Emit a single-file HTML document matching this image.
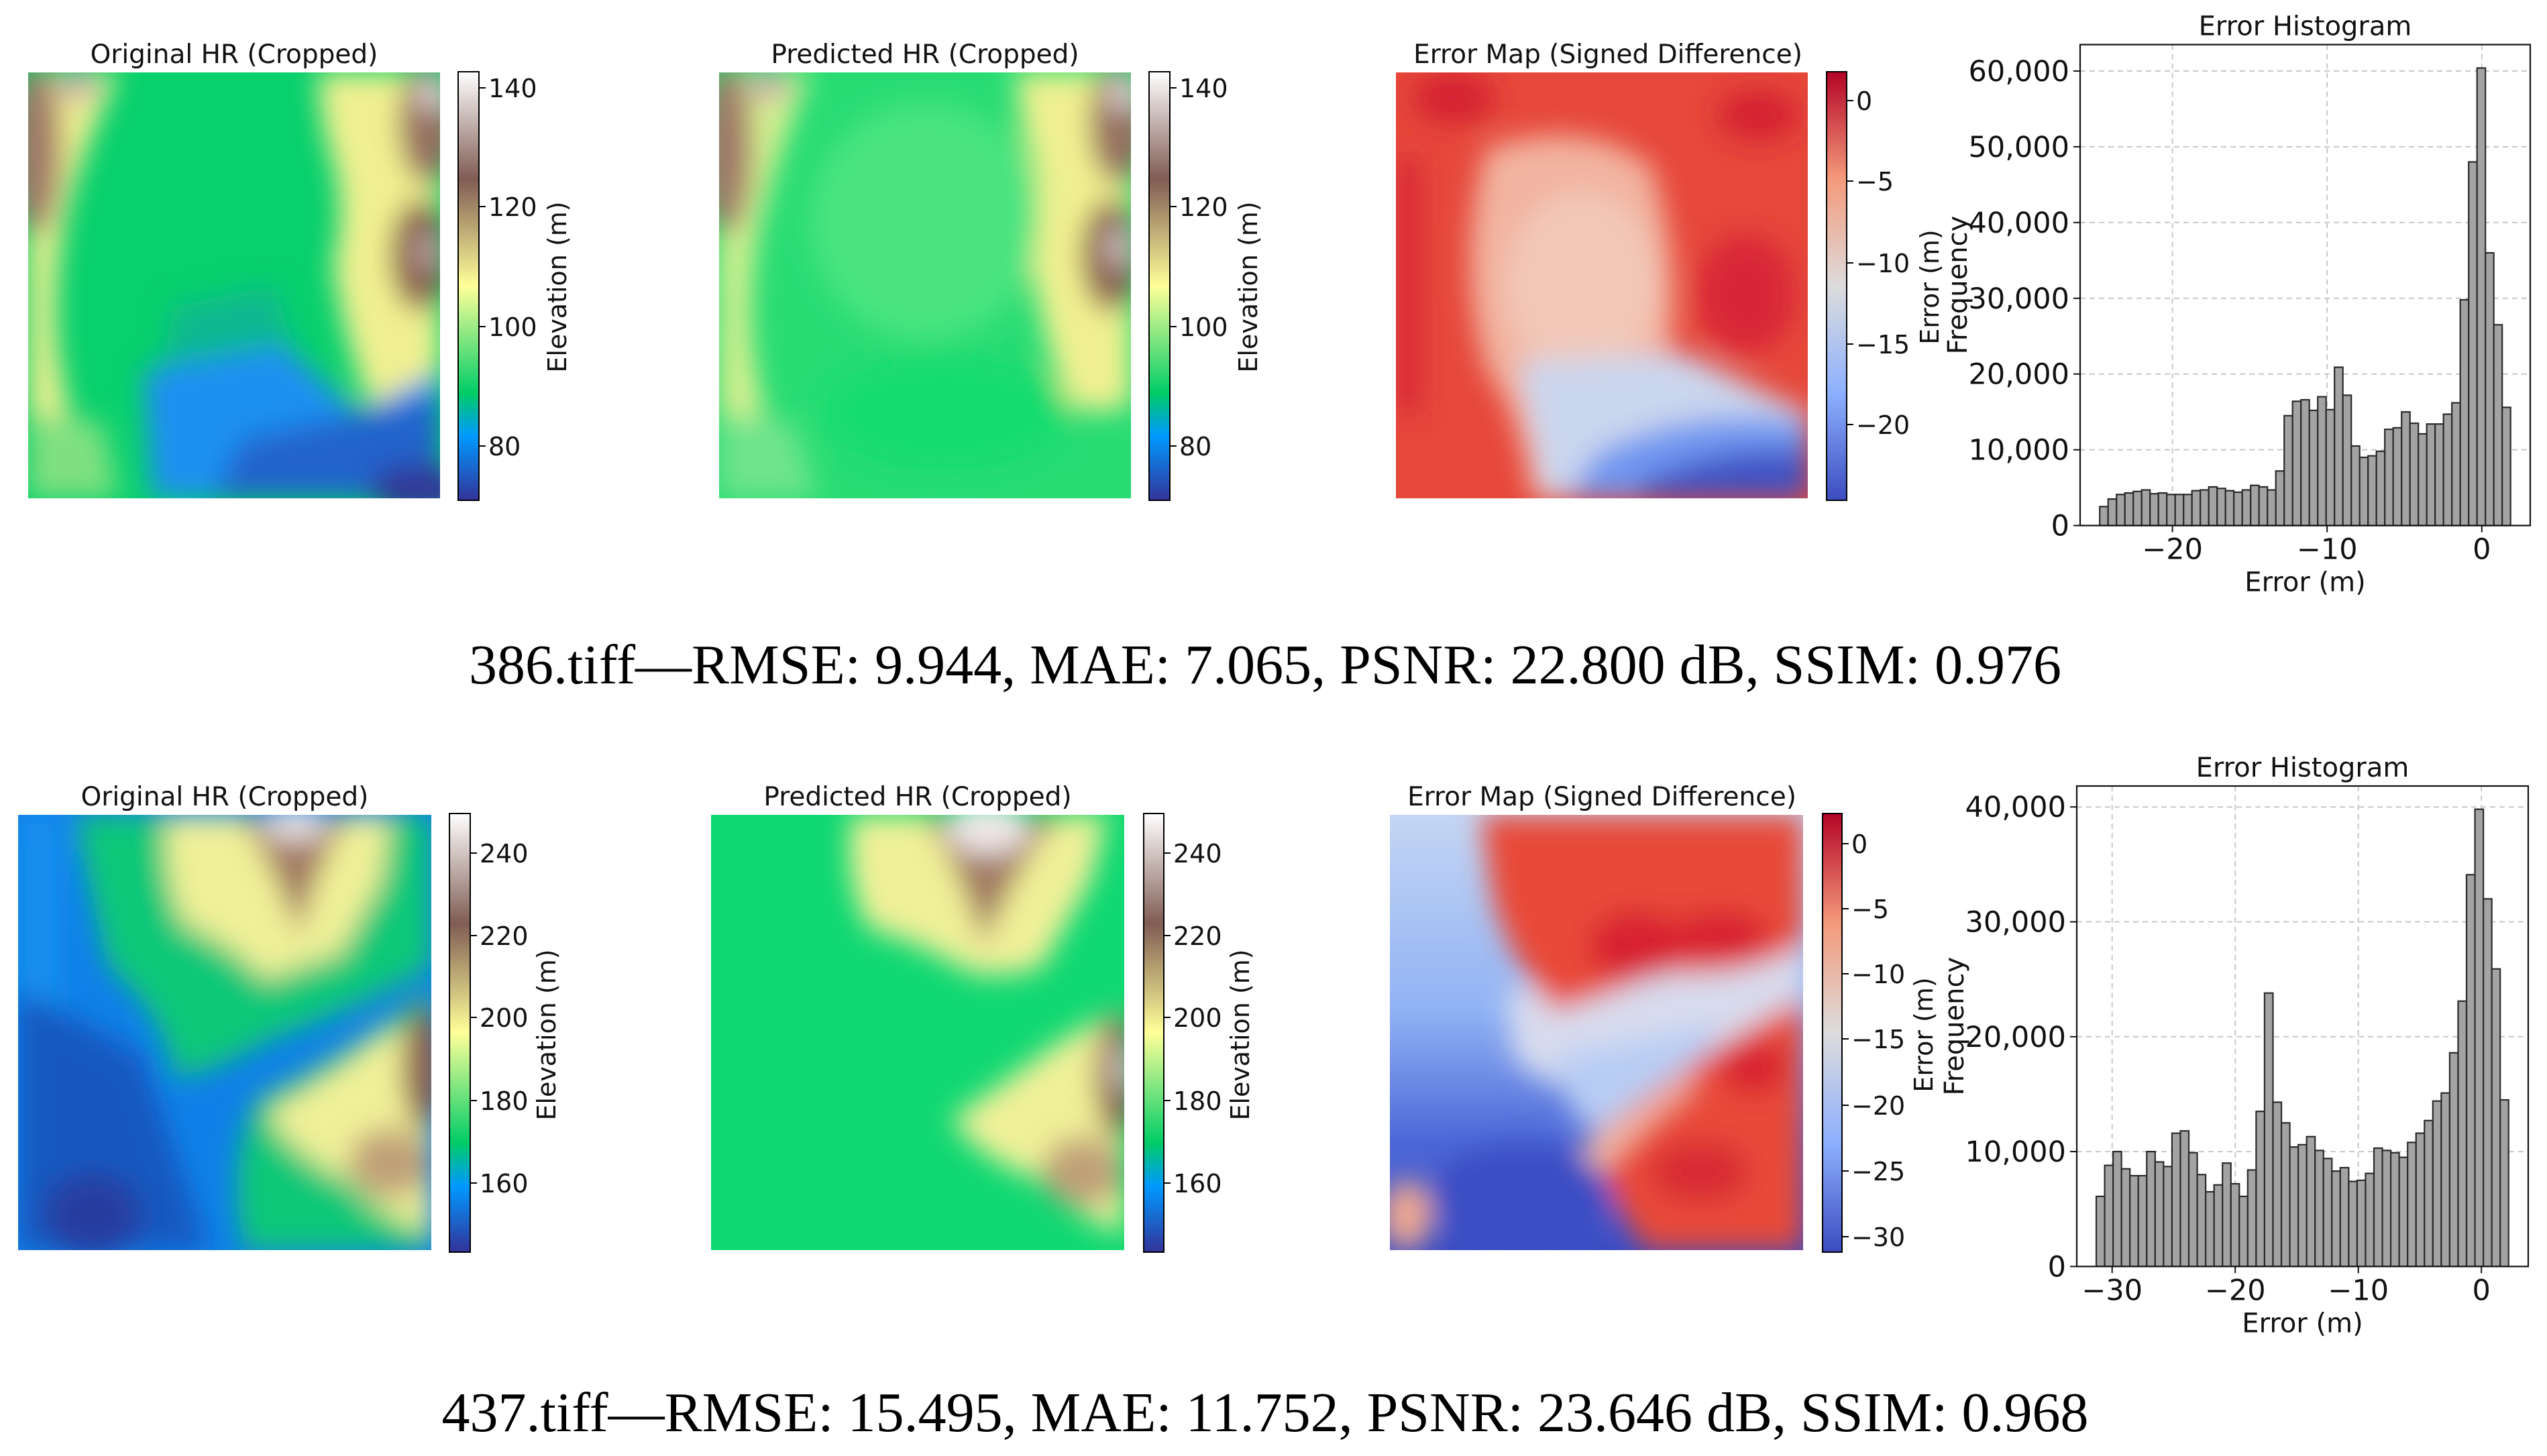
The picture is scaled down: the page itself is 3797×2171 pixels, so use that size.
<!DOCTYPE html>
<html><head><meta charset="utf-8"><style>
html,body{margin:0;padding:0;background:#fff;}
svg{display:block;}
.t{font-family:"DejaVu Sans","Liberation Sans",sans-serif;fill:#111;}
.cap{font-family:"Liberation Serif",serif;fill:#000;}
</style></head><body>
<svg id="fig" width="3797" height="2171" viewBox="0 0 3797 2171" xmlns="http://www.w3.org/2000/svg">
<defs>
<filter id="bl" x="-10%" y="-10%" width="120%" height="120%"><feGaussianBlur stdDeviation="3.2"/></filter>
<linearGradient id="terrain" x1="0" y1="1" x2="0" y2="0">
<stop offset="0" stop-color="#333399"/><stop offset="0.15" stop-color="#0099ff"/><stop offset="0.25" stop-color="#00cc66"/><stop offset="0.5" stop-color="#ffff99"/><stop offset="0.75" stop-color="#805c54"/><stop offset="1" stop-color="#ffffff"/>
</linearGradient>
<linearGradient id="coolwarm" x1="0" y1="1" x2="0" y2="0">
<stop offset="0" stop-color="#3b4cc0"/><stop offset="0.25" stop-color="#8db0fe"/><stop offset="0.5" stop-color="#dddcdc"/><stop offset="0.75" stop-color="#f49a7b"/><stop offset="1" stop-color="#b40426"/>
</linearGradient>
<linearGradient id="leftblue" x1="0" y1="0" x2="0" y2="1">
<stop offset="0" stop-color="#c4d6f4"/><stop offset="0.45" stop-color="#90b2f4"/><stop offset="0.75" stop-color="#4c68d8"/><stop offset="1" stop-color="#3a4cc2"/>
</linearGradient>
</defs>

<!-- ROW 1 -->
<text class="t" x="349" y="94" font-size="39" text-anchor="middle">Original HR (Cropped)</text>
<svg x="42" y="108" width="614" height="635" viewBox="0 0 100 100" preserveAspectRatio="none">
<rect width="100" height="100" fill="#08d06c"/>
<g filter="url(#bl)">
<path d="M0 0 L22 0 Q10 25 8 40 Q5 60 9 75 Q11 90 14 100 L0 100 Z" fill="#f0f090"/>
<ellipse cx="2" cy="18" rx="6" ry="20" fill="#a07868"/>
<ellipse cx="12" cy="3" rx="5" ry="4" fill="#c8b0a8"/>
<path d="M0 80 L18 82 L22 100 L0 100Z" fill="#80e080"/>
<path d="M70 0 L100 0 L100 78 Q88 82 82 76 Q76 60 74 45 Q78 30 72 15 Z" fill="#f0f090"/>
<ellipse cx="97" cy="12" rx="7" ry="14" fill="#967060"/>
<ellipse cx="98" cy="5" rx="3" ry="4" fill="#e8e0e0"/>
<ellipse cx="95" cy="43" rx="7" ry="13" fill="#8a6050"/>
<ellipse cx="97" cy="42" rx="3" ry="4" fill="#c0a8a8"/>
<path d="M35 55 L60 50 L66 70 L32 74 Z" fill="#10b890"/>
<path d="M28 70 L62 64 L80 80 L100 70 L100 100 L30 100 Z" fill="#1a90f0"/>
<path d="M52 86 L100 76 L100 100 L45 100Z" fill="#2064cc"/>
<ellipse cx="95" cy="98" rx="12" ry="6" fill="#303898"/>
</g></svg>
<rect x="683" y="107" width="31" height="639" fill="url(#terrain)" stroke="#000" stroke-width="2"/>
<g class="t" font-size="38">
<line x1="714" y1="131" x2="724" y2="131" stroke="#000" stroke-width="2"/><text x="728" y="145">140</text>
<line x1="714" y1="308" x2="724" y2="308" stroke="#000" stroke-width="2"/><text x="728" y="322">120</text>
<line x1="714" y1="487" x2="724" y2="487" stroke="#000" stroke-width="2"/><text x="728" y="501">100</text>
<line x1="714" y1="665" x2="724" y2="665" stroke="#000" stroke-width="2"/><text x="728" y="679">80</text>
</g>
<text class="t" font-size="38" text-anchor="middle" transform="translate(844,428) rotate(-90)">Elevation (m)</text>

<text class="t" x="1379" y="94" font-size="39" text-anchor="middle">Predicted HR (Cropped)</text>
<svg x="1072" y="108" width="614" height="635" viewBox="0 0 100 100" preserveAspectRatio="none">
<rect width="100" height="100" fill="#28dc74"/>
<g filter="url(#bl)">
<ellipse cx="50" cy="35" rx="28" ry="28" fill="#48e480"/>
<path d="M0 0 L22 0 Q12 25 9 40 Q6 60 10 75 Q12 90 16 100 L0 100 Z" fill="#d8f090"/>
<ellipse cx="2" cy="18" rx="6" ry="20" fill="#a07868"/>
<ellipse cx="12" cy="3" rx="5" ry="4" fill="#c8b0a8"/>
<path d="M0 80 L18 82 L24 100 L0 100Z" fill="#70e48c"/>
<path d="M72 0 L100 0 L100 78 Q88 82 84 76 Q78 60 76 45 Q80 30 74 15 Z" fill="#f0f090"/>
<ellipse cx="97" cy="12" rx="7" ry="14" fill="#967060"/>
<ellipse cx="98" cy="5" rx="3" ry="4" fill="#e8e0e0"/>
<ellipse cx="95" cy="43" rx="7" ry="13" fill="#8a6050"/>
<ellipse cx="97" cy="41" rx="3" ry="5" fill="#d0c0c0"/>
<ellipse cx="55" cy="80" rx="30" ry="14" fill="#18dc70"/>
</g></svg>
<rect x="1713" y="107" width="31" height="639" fill="url(#terrain)" stroke="#000" stroke-width="2"/>
<g class="t" font-size="38">
<line x1="1744" y1="131" x2="1754" y2="131" stroke="#000" stroke-width="2"/><text x="1758" y="145">140</text>
<line x1="1744" y1="308" x2="1754" y2="308" stroke="#000" stroke-width="2"/><text x="1758" y="322">120</text>
<line x1="1744" y1="487" x2="1754" y2="487" stroke="#000" stroke-width="2"/><text x="1758" y="501">100</text>
<line x1="1744" y1="665" x2="1754" y2="665" stroke="#000" stroke-width="2"/><text x="1758" y="679">80</text>
</g>
<text class="t" font-size="38" text-anchor="middle" transform="translate(1874,428) rotate(-90)">Elevation (m)</text>

<text class="t" x="2397" y="94" font-size="39" text-anchor="middle">Error Map (Signed Difference)</text>
<svg x="2081" y="108" width="614" height="635" viewBox="0 0 100 100" preserveAspectRatio="none">
<rect width="100" height="100" fill="#e6483a"/>
<g filter="url(#bl)">
<path d="M22 18 Q45 10 62 22 Q70 45 66 70 Q80 85 100 78 L100 100 L33 100 Q30 80 22 70 Q14 45 22 18Z" fill="#f2b4a0"/>
<ellipse cx="45" cy="50" rx="18" ry="22" fill="#f2c8b8"/>
<path d="M30 68 L70 66 L100 80 L100 100 L36 100 Z" fill="#cad6ee"/>
<path d="M48 90 Q70 78 100 82 L100 100 L42 100Z" fill="#7096f0"/>
<path d="M60 96 Q80 87 100 89 L100 100 L58 100Z" fill="#3f52c4"/>
<ellipse cx="14" cy="6" rx="10" ry="6" fill="#d42030"/>
<ellipse cx="88" cy="10" rx="10" ry="6" fill="#d42030"/>
<ellipse cx="85" cy="52" rx="12" ry="14" fill="#d82838"/>
<rect x="0" y="20" width="6" height="60" fill="#d82838"/>
</g></svg>
<rect x="2723" y="107" width="30" height="639" fill="url(#coolwarm)" stroke="#000" stroke-width="2"/>
<g class="t" font-size="38">
<line x1="2753" y1="150" x2="2763" y2="150" stroke="#000" stroke-width="2"/><text x="2767" y="164">0</text>
<line x1="2753" y1="270" x2="2763" y2="270" stroke="#000" stroke-width="2"/><text x="2767" y="284">−5</text>
<line x1="2753" y1="392" x2="2763" y2="392" stroke="#000" stroke-width="2"/><text x="2767" y="406">−10</text>
<line x1="2753" y1="513" x2="2763" y2="513" stroke="#000" stroke-width="2"/><text x="2767" y="527">−15</text>
<line x1="2753" y1="633" x2="2763" y2="633" stroke="#000" stroke-width="2"/><text x="2767" y="647">−20</text>
</g>
<text class="t" font-size="38" text-anchor="middle" transform="translate(2890,428) rotate(-90)">Error (m)</text>

<!-- ROW 2 -->
<text class="t" x="335" y="1201" font-size="39" text-anchor="middle">Original HR (Cropped)</text>
<svg x="27" y="1215" width="616" height="649" viewBox="0 0 100 100" preserveAspectRatio="none">
<rect width="100" height="100" fill="#1080e8"/>
<g filter="url(#bl)">
<rect x="0" y="0" width="10" height="45" fill="#1490f0"/>
<path d="M0 40 L30 55 L46 100 L0 100Z" fill="#1858c0"/>
<ellipse cx="18" cy="92" rx="12" ry="10" fill="#283ca0"/>
<path d="M14 0 L100 0 L100 35 Q80 45 60 52 Q45 60 38 60 Q35 45 22 35 Q18 20 14 0Z" fill="#10c878"/>
<path d="M36 0 L90 0 L88 15 Q82 25 78 32 Q70 34 60 38 Q52 30 40 25 Q35 15 36 0Z" fill="#f0f098"/>
<path d="M54 0 L80 0 Q72 12 68 28 Q62 12 54 0Z" fill="#a07860"/>
<ellipse cx="67" cy="2" rx="8" ry="4" fill="#e8e0e0"/>
<path d="M100 40 L100 100 L55 100 Q50 80 58 65 Q80 55 100 40Z" fill="#10c878"/>
<path d="M100 48 L100 96 Q90 94 80 84 Q66 78 60 68 Q72 62 82 55 Q90 48 100 48Z" fill="#f0f098"/>
<ellipse cx="98" cy="58" rx="5" ry="14" fill="#8a6050"/>
<ellipse cx="90" cy="80" rx="10" ry="8" fill="#c0a078"/>
</g></svg>
<rect x="670" y="1213" width="31" height="654" fill="url(#terrain)" stroke="#000" stroke-width="2"/>
<g class="t" font-size="38">
<line x1="701" y1="1272" x2="711" y2="1272" stroke="#000" stroke-width="2"/><text x="715" y="1286">240</text>
<line x1="701" y1="1395" x2="711" y2="1395" stroke="#000" stroke-width="2"/><text x="715" y="1409">220</text>
<line x1="701" y1="1517" x2="711" y2="1517" stroke="#000" stroke-width="2"/><text x="715" y="1531">200</text>
<line x1="701" y1="1641" x2="711" y2="1641" stroke="#000" stroke-width="2"/><text x="715" y="1655">180</text>
<line x1="701" y1="1764" x2="711" y2="1764" stroke="#000" stroke-width="2"/><text x="715" y="1778">160</text>
</g>
<text class="t" font-size="38" text-anchor="middle" transform="translate(828,1543) rotate(-90)">Elevation (m)</text>

<text class="t" x="1368" y="1201" font-size="39" text-anchor="middle">Predicted HR (Cropped)</text>
<svg x="1060" y="1215" width="616" height="649" viewBox="0 0 100 100" preserveAspectRatio="none">
<rect width="100" height="100" fill="#10d872"/>
<g filter="url(#bl)">
<path d="M34 0 L96 0 L92 15 Q86 25 80 35 Q70 38 62 36 Q52 30 38 26 Q32 15 34 0Z" fill="#f0f098"/>
<path d="M52 0 L84 0 Q74 12 66 30 Q60 12 52 0Z" fill="#a07860"/>
<ellipse cx="67" cy="3" rx="10" ry="6" fill="#f0e8e8"/>
<path d="M100 45 L100 96 Q90 94 80 84 Q66 80 58 70 Q70 62 80 55 Q90 48 100 45Z" fill="#f0f098"/>
<ellipse cx="98" cy="60" rx="5" ry="14" fill="#8a6050"/>
<ellipse cx="99" cy="58" rx="2" ry="6" fill="#d8ccc8"/>
<ellipse cx="90" cy="82" rx="10" ry="8" fill="#c0a078"/>
</g></svg>
<rect x="1705" y="1213" width="30" height="654" fill="url(#terrain)" stroke="#000" stroke-width="2"/>
<g class="t" font-size="38">
<line x1="1735" y1="1272" x2="1745" y2="1272" stroke="#000" stroke-width="2"/><text x="1749" y="1286">240</text>
<line x1="1735" y1="1395" x2="1745" y2="1395" stroke="#000" stroke-width="2"/><text x="1749" y="1409">220</text>
<line x1="1735" y1="1517" x2="1745" y2="1517" stroke="#000" stroke-width="2"/><text x="1749" y="1531">200</text>
<line x1="1735" y1="1641" x2="1745" y2="1641" stroke="#000" stroke-width="2"/><text x="1749" y="1655">180</text>
<line x1="1735" y1="1764" x2="1745" y2="1764" stroke="#000" stroke-width="2"/><text x="1749" y="1778">160</text>
</g>
<text class="t" font-size="38" text-anchor="middle" transform="translate(1862,1543) rotate(-90)">Elevation (m)</text>

<text class="t" x="2388" y="1201" font-size="39" text-anchor="middle">Error Map (Signed Difference)</text>
<svg x="2072" y="1215" width="616" height="649" viewBox="0 0 100 100" preserveAspectRatio="none">
<rect width="100" height="100" fill="url(#leftblue)"/>
<g filter="url(#bl)">
<path d="M28 40 Q60 38 100 22 L100 48 Q75 58 55 66 Q40 64 30 56Z" fill="#d8dcee"/>
<path d="M40 55 Q60 52 80 48 L70 70 Q55 75 45 70Z" fill="#b8cdf4"/>
<path d="M22 0 L100 0 L100 30 Q85 38 66 36 Q52 42 40 45 Q30 35 25 20 Z" fill="#e84838"/>
<ellipse cx="60" cy="30" rx="12" ry="8" fill="#d82030"/>
<ellipse cx="80" cy="28" rx="12" ry="6" fill="#d82030"/>
<path d="M100 42 L100 100 L62 100 Q52 86 46 76 Q60 66 75 56 Q88 48 100 42Z" fill="#e84838"/>
<ellipse cx="88" cy="58" rx="8" ry="6" fill="#d82030"/>
<ellipse cx="75" cy="82" rx="12" ry="7" fill="#d82a34"/>
<path d="M46 76 Q60 68 75 58 L72 64 Q60 72 50 84Z" fill="#f2b8a4"/>
<ellipse cx="32" cy="88" rx="22" ry="12" fill="#3a4ec4"/>
<ellipse cx="4" cy="92" rx="6" ry="8" fill="#f0a890"/>
</g></svg>
<rect x="2717" y="1213" width="29" height="654" fill="url(#coolwarm)" stroke="#000" stroke-width="2"/>
<g class="t" font-size="38">
<line x1="2746" y1="1258" x2="2756" y2="1258" stroke="#000" stroke-width="2"/><text x="2760" y="1272">0</text>
<line x1="2746" y1="1355" x2="2756" y2="1355" stroke="#000" stroke-width="2"/><text x="2760" y="1369">−5</text>
<line x1="2746" y1="1452" x2="2756" y2="1452" stroke="#000" stroke-width="2"/><text x="2760" y="1466">−10</text>
<line x1="2746" y1="1549" x2="2756" y2="1549" stroke="#000" stroke-width="2"/><text x="2760" y="1563">−15</text>
<line x1="2746" y1="1648" x2="2756" y2="1648" stroke="#000" stroke-width="2"/><text x="2760" y="1662">−20</text>
<line x1="2746" y1="1746" x2="2756" y2="1746" stroke="#000" stroke-width="2"/><text x="2760" y="1760">−25</text>
<line x1="2746" y1="1844" x2="2756" y2="1844" stroke="#000" stroke-width="2"/><text x="2760" y="1858">−30</text>
</g>
<text class="t" font-size="38" text-anchor="middle" transform="translate(2881,1543) rotate(-90)">Error (m)</text>

<g id="hist1"></g>
<g id="hist2"></g>

<text class="cap" x="1886" y="1019" font-size="84" text-anchor="middle">386.tiff—RMSE: 9.944, MAE: 7.065, PSNR: 22.800 dB, SSIM: 0.976</text>
<text class="cap" x="1886" y="2134" font-size="84" text-anchor="middle">437.tiff—RMSE: 15.495, MAE: 11.752, PSNR: 23.646 dB, SSIM: 0.968</text>
</svg>

<script>
const h1Counts = [2500,3500,4100,4300,4500,4700,4200,4300,4100,4100,4100,4600,4700,5100,4900,4600,4400,4700,5300,5100,4700,7200,14500,16400,16600,15200,17000,15300,20900,17200,10500,9000,9200,9800,12700,12900,15000,13500,12100,13400,13400,14700,16200,29800,48000,60400,36000,26500,15600];
const h1Range = [-24.7, 1.86];
const h1YTicks = [0,10000,20000,30000,40000,50000,60000];
const h1XTicks = [-20,-10,0];

const h2Counts = [6100,8800,10000,8500,7900,7900,10000,9100,8700,11600,11800,9900,8000,6500,7100,9000,7200,6100,8400,13500,23800,14300,12500,10400,10600,11300,10100,9400,8300,8600,7400,7500,8100,10300,10100,9900,9500,10800,11600,12700,14400,15100,18600,23100,34100,39800,32000,25900,14500];
const h2Range = [-31.29, 2.21];
const h2YTicks = [0,10000,20000,30000,40000];
const h2XTicks = [-30,-20,-10,0];

const NS = "http://www.w3.org/2000/svg";
function mk(tag, attrs, parent){
  const e = document.createElementNS(NS, tag);
  for (const k in attrs) e.setAttribute(k, attrs[k]);
  parent.appendChild(e);
  return e;
}
function fmt(v){ return v.toLocaleString('en-US'); }
function neg(v){ return v < 0 ? '\u2212' + Math.abs(v) : String(v); }

function drawHist(g, counts, range, yTicks, xTicks, box){
  const L = box.L, R = box.R, T = box.T, B = box.B;
  const xs = v => box.x0 + v * box.xk;
  const ys = v => B - v * box.yk;
  for (const t of xTicks){
    const l = mk('line', {x1: xs(t), x2: xs(t), y1: T, y2: B, stroke: '#c8c8c8', 'stroke-width': 2, 'stroke-dasharray': '8,6'}, g);
    
    
  }
  for (const t of yTicks){
    const l = mk('line', {x1: L, x2: R, y1: ys(t), y2: ys(t), stroke: '#c8c8c8', 'stroke-width': 2, 'stroke-dasharray': '8,6'}, g);
    
    
  }
  const n = counts.length, w = (range[1] - range[0]) / n;
  counts.forEach((c, i) => {
    const a = range[0] + i * w;
    const r = mk('rect', {x: xs(a), y: ys(c), width: xs(a + w) - xs(a), height: B - ys(c), fill: '#a3a3a3', stroke: '#2a2a2a', 'stroke-width': 2.2}, g);
    
    
  });
  const fr = mk('rect', {x: L, y: T, width: R - L, height: B - T, fill: 'none', stroke: '#111', 'stroke-width': 2.2}, g);
  
  
  for (const t of yTicks){
    mk('line', {x1: L - 10, x2: L, y1: ys(t), y2: ys(t), stroke: '#111', 'stroke-width': 2}, g);
    const tx = mk('text', {x: L - 16, y: ys(t) + 15, 'font-size': 43, 'text-anchor': 'end', class: 't'}, g);
    tx.textContent = fmt(t);
    
    
  }
  for (const t of xTicks){
    mk('line', {x1: xs(t), x2: xs(t), y1: B, y2: B + 10, stroke: '#111', 'stroke-width': 2}, g);
    const tx = mk('text', {x: xs(t), y: B + 50, 'font-size': 43, 'text-anchor': 'middle', class: 't'}, g);
    tx.textContent = neg(t);
    
    
  }
  const ti = mk('text', {x: (L + R) / 2, y: T - 14, 'font-size': 40, 'text-anchor': 'middle', class: 't'}, g);
  ti.textContent = 'Error Histogram';
  
  
  const xl = mk('text', {x: (L + R) / 2, y: B + 98, 'font-size': 40, 'text-anchor': 'middle', class: 't'}, g);
  xl.textContent = 'Error (m)';
  
  
  const yl = mk('text', {transform: 'translate(' + box.ylx + ',' + ((T + B) / 2) + ') rotate(-90)', 'font-size': 40, 'text-anchor': 'middle', class: 't'}, g);
  yl.textContent = 'Frequency';
  
  
}

drawHist(document.getElementById('hist1'), h1Counts, h1Range, h1YTicks, h1XTicks,
  {L: 3101, R: 3772, T: 66.5, B: 783.6, x0: 3699.8, xk: 23.06, yk: 0.011295, ylx: 2932});
drawHist(document.getElementById('hist2'), h2Counts, h2Range, h2YTicks, h2XTicks,
  {L: 3096, R: 3769, T: 1172, B: 1888.4, x0: 3699.2, xk: 18.35, yk: 0.01713, ylx: 2927});
</script>
</body></html>
